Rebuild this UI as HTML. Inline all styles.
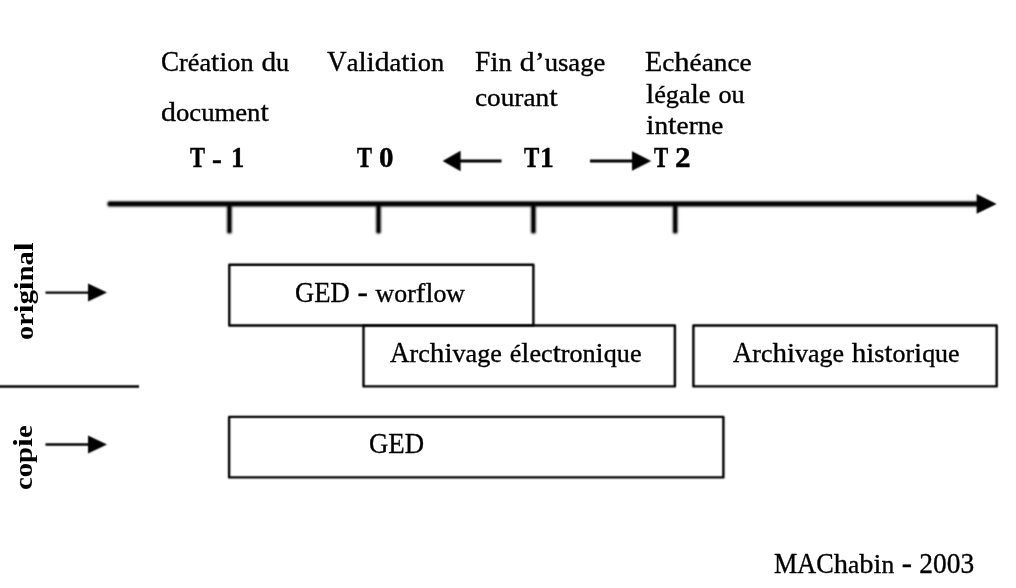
<!DOCTYPE html>
<html><head><meta charset="utf-8"><title>Cycle de vie du document</title><style>
html,body{margin:0;padding:0;background:#fff;width:1016px;height:588px;overflow:hidden;position:relative}
#w{position:absolute;left:0;top:0;width:1016px;height:588px;background:#fff;filter:grayscale(1)}
#g{position:absolute;left:0;top:0;width:1016px;height:588px;filter:url(#soft)}
.t{position:absolute;white-space:nowrap;font-family:"Liberation Serif",serif;font-size:30px;line-height:0;color:#000;transform-origin:0 0;height:0}
.t span.la{font-size:28px}
.t span.lx{font-size:25px}
.t span.uc{display:inline-block;transform-origin:0 0}
.r{-webkit-text-stroke:0.35px #000;letter-spacing:0px}
.b{font-weight:bold;font-size:30px;-webkit-text-stroke:0.45px #000}
.b.v{-webkit-text-stroke:0px #000}
</style></head><body>
<svg width="0" height="0" style="position:absolute;left:0;top:0"><filter id="soft" x="0" y="0" width="100%" height="100%" color-interpolation-filters="sRGB"><feConvolveMatrix order="3" kernelMatrix="1 2 1 2 6 2 1 2 1" divisor="18" edgeMode="duplicate"/></filter></svg>
<div id="w">
<div id="g"><svg width="1016" height="588" viewBox="0 0 1016 588" style="position:absolute;left:0;top:0">
<line x1="110" y1="203.9" x2="978" y2="203.9" stroke="#000" stroke-opacity="0.05" stroke-width="9.5" stroke-linecap="round"/>
<line x1="110" y1="203.9" x2="978" y2="203.9" stroke="#000" stroke-opacity="0.15" stroke-width="7.5" stroke-linecap="round"/>
<line x1="110" y1="203.9" x2="978" y2="203.9" stroke="#000" stroke-opacity="0.32" stroke-width="6" stroke-linecap="round"/>
<line x1="110" y1="203.9" x2="978" y2="203.9" stroke="#000" stroke-opacity="0.6" stroke-width="4.6" stroke-linecap="round"/>
<line x1="110" y1="203.9" x2="978" y2="203.9" stroke="#000" stroke-opacity="1" stroke-width="3.3" stroke-linecap="round"/>
<line x1="229.4" y1="207" x2="229.4" y2="231.2" stroke="#000" stroke-opacity="0.05" stroke-width="9" stroke-linecap="round"/>
<line x1="229.4" y1="207" x2="229.4" y2="231.2" stroke="#000" stroke-opacity="0.15" stroke-width="7" stroke-linecap="round"/>
<line x1="229.4" y1="207" x2="229.4" y2="231.2" stroke="#000" stroke-opacity="0.3" stroke-width="5.5" stroke-linecap="round"/>
<line x1="229.4" y1="207" x2="229.4" y2="231.2" stroke="#000" stroke-opacity="0.55" stroke-width="4.2" stroke-linecap="round"/>
<line x1="229.4" y1="207" x2="229.4" y2="231.2" stroke="#000" stroke-opacity="1" stroke-width="2.8" stroke-linecap="round"/>
<line x1="378.5" y1="207" x2="378.5" y2="231.2" stroke="#000" stroke-opacity="0.05" stroke-width="9" stroke-linecap="round"/>
<line x1="378.5" y1="207" x2="378.5" y2="231.2" stroke="#000" stroke-opacity="0.15" stroke-width="7" stroke-linecap="round"/>
<line x1="378.5" y1="207" x2="378.5" y2="231.2" stroke="#000" stroke-opacity="0.3" stroke-width="5.5" stroke-linecap="round"/>
<line x1="378.5" y1="207" x2="378.5" y2="231.2" stroke="#000" stroke-opacity="0.55" stroke-width="4.2" stroke-linecap="round"/>
<line x1="378.5" y1="207" x2="378.5" y2="231.2" stroke="#000" stroke-opacity="1" stroke-width="2.8" stroke-linecap="round"/>
<line x1="533.4" y1="207" x2="533.4" y2="231.2" stroke="#000" stroke-opacity="0.05" stroke-width="9" stroke-linecap="round"/>
<line x1="533.4" y1="207" x2="533.4" y2="231.2" stroke="#000" stroke-opacity="0.15" stroke-width="7" stroke-linecap="round"/>
<line x1="533.4" y1="207" x2="533.4" y2="231.2" stroke="#000" stroke-opacity="0.3" stroke-width="5.5" stroke-linecap="round"/>
<line x1="533.4" y1="207" x2="533.4" y2="231.2" stroke="#000" stroke-opacity="0.55" stroke-width="4.2" stroke-linecap="round"/>
<line x1="533.4" y1="207" x2="533.4" y2="231.2" stroke="#000" stroke-opacity="1" stroke-width="2.8" stroke-linecap="round"/>
<line x1="675.2" y1="207" x2="675.2" y2="231.2" stroke="#000" stroke-opacity="0.05" stroke-width="9" stroke-linecap="round"/>
<line x1="675.2" y1="207" x2="675.2" y2="231.2" stroke="#000" stroke-opacity="0.15" stroke-width="7" stroke-linecap="round"/>
<line x1="675.2" y1="207" x2="675.2" y2="231.2" stroke="#000" stroke-opacity="0.3" stroke-width="5.5" stroke-linecap="round"/>
<line x1="675.2" y1="207" x2="675.2" y2="231.2" stroke="#000" stroke-opacity="0.55" stroke-width="4.2" stroke-linecap="round"/>
<line x1="675.2" y1="207" x2="675.2" y2="231.2" stroke="#000" stroke-opacity="1" stroke-width="2.8" stroke-linecap="round"/>
<g stroke="#000" fill="none" stroke-linejoin="round" stroke-width="2.4">
<rect x="229.3" y="264.7" width="304.1" height="60.8"/>
<rect x="363.5" y="325.5" width="311.4" height="60.9"/>
<rect x="693.4" y="325.5" width="303.3" height="60.9"/>
<rect x="229.1" y="416.9" width="494.3" height="60.5"/>
</g>
<g stroke="#000" fill="none">
<line x1="0" y1="386.5" x2="139" y2="386.5" stroke-width="2.4"/>
<line x1="45.5" y1="292.6" x2="90" y2="292.6" stroke-width="2.3"/>
<line x1="45.5" y1="444.5" x2="90" y2="444.5" stroke-width="2.3"/>
<line x1="458" y1="161" x2="501.5" y2="161" stroke-width="2.8"/>
<line x1="590" y1="161" x2="634" y2="161" stroke-width="2.8"/>
</g>
<g fill="#000">
<polygon points="976.6,194 996.6,203.9 976.6,213.8"/>
<polygon points="88,283.6 107,292.6 88,301.6"/>
<polygon points="88,435.5 107,444.5 88,453.5"/>
<polygon points="442.6,161 460.6,150.8 460.6,171.2"/>
<polygon points="632,151.3 651.2,161 632,170.7"/>
</g>
</svg></div>
<div class="t r" style="left:160.95px;top:61.00px;transform:scaleX(1.0479)"><span class="uc" style="transform:scaleX(0.86);margin-right:-2.80px">C</span><span class="lx">réa</span><span class="la">ti</span><span class="lx">on</span> <span class="la">d</span><span class="lx">u</span></div>
<div class="t r" style="left:160.93px;top:111.00px;transform:scaleX(1.0680)"><span class="la">d</span><span class="lx">ocumen</span><span class="la">t</span></div>
<div class="t r" style="left:326.70px;top:60.50px;transform:scaleX(1.0550)"><span class="uc" style="transform:scaleX(0.86);margin-right:-3.03px">V</span><span class="lx">a</span><span class="la">lid</span><span class="lx">a</span><span class="la">ti</span><span class="lx">on</span></div>
<div class="t r" style="left:474.94px;top:61.00px;transform:scaleX(1.0645)"><span class="uc" style="transform:scaleX(0.86);margin-right:-2.34px">F</span><span class="la">i</span><span class="lx">n</span> <span class="la">d’</span><span class="lx">usage</span></div>
<div class="t r" style="left:474.91px;top:95.70px;transform:scaleX(1.0907)"><span class="lx">couran</span><span class="la">t</span></div>
<div class="t r" style="left:644.91px;top:60.70px;transform:scaleX(1.0917)"><span class="uc" style="transform:scaleX(0.86);margin-right:-2.57px">E</span><span class="lx">c</span><span class="la">h</span><span class="lx">éance</span></div>
<div class="t r" style="left:646.00px;top:93.40px;transform:scaleX(1.0511)"><span class="la">l</span><span class="lx">éga</span><span class="la">l</span><span class="lx">e</span> <span class="lx">ou</span></div>
<div class="t r" style="left:646.00px;top:123.75px;transform:scaleX(1.0887)"><span class="la">i</span><span class="lx">n</span><span class="la">t</span><span class="lx">erne</span></div>
<div class="t r" style="left:295.37px;top:291.50px;transform:scaleX(1.0329)"><span class="uc" style="transform:scaleX(0.86);margin-right:-8.63px">GED</span> - <span class="lx">wor</span><span class="la">fl</span><span class="lx">ow</span></div>
<div class="t r" style="left:390.40px;top:351.60px;transform:scaleX(1.0450)"><span class="uc" style="transform:scaleX(0.86);margin-right:-3.03px">A</span><span class="lx">rc</span><span class="la">hi</span><span class="lx">vage</span> <span class="lx">é</span><span class="la">l</span><span class="lx">ec</span><span class="la">t</span><span class="lx">ron</span><span class="la">i</span><span class="lx">que</span></div>
<div class="t r" style="left:732.80px;top:351.60px;transform:scaleX(1.0367)"><span class="uc" style="transform:scaleX(0.86);margin-right:-3.03px">A</span><span class="lx">rc</span><span class="la">hi</span><span class="lx">vage</span> <span class="la">hi</span><span class="lx">s</span><span class="la">t</span><span class="lx">or</span><span class="la">i</span><span class="lx">que</span></div>
<div class="t r" style="left:368.76px;top:443.20px;transform:scaleX(1.0392)"><span class="uc" style="transform:scaleX(0.86);margin-right:-8.63px">GED</span></div>
<div class="t r" style="left:774.38px;top:563.00px;transform:scaleX(1.0164)"><span class="uc" style="transform:scaleX(0.86);margin-right:-9.57px">MAC</span><span class="la">h</span><span class="lx">a</span><span class="la">bi</span><span class="lx">n</span> - <span class="uc" style="transform:scaleX(0.9);margin-right:-6.00px">2003</span></div>
<div class="t b" style="left:190.20px;top:157.20px;transform:scaleX(0.7500)">T</div>
<div class="t b" style="left:211.71px;top:158.80px;transform:scaleX(0.9875)">-</div>
<div class="t b" style="left:231.03px;top:157.20px;transform:scaleX(0.8833)">1</div>
<div class="t b" style="left:357.30px;top:157.20px;transform:scaleX(0.7500)">T</div>
<div class="t b" style="left:379.23px;top:157.20px;transform:scaleX(0.9692)">0</div>
<div class="t b" style="left:524.20px;top:157.20px;transform:scaleX(0.7650)">T</div>
<div class="t b" style="left:540.07px;top:157.20px;transform:scaleX(0.9167)">1</div>
<div class="t b" style="left:654.10px;top:157.20px;transform:scaleX(0.7100)">T</div>
<div class="t b" style="left:674.96px;top:157.20px;transform:scaleX(1.0385)">2</div>
<div style="position:absolute;left:33.40px;top:339.94px;width:0;height:0;transform-origin:0 0;transform:rotate(-90deg) scaleX(1.1357)"><div class="t b v" style="left:0;top:-10.00px"><span class="lx">or</span><span class="la">i</span><span class="lx">g</span><span class="la">i</span><span class="lx">na</span><span class="la">l</span></div></div>
<div style="position:absolute;left:32.10px;top:489.75px;width:0;height:0;transform-origin:0 0;transform:rotate(-90deg) scaleX(1.1473)"><div class="t b v" style="left:0;top:-10.00px"><span class="lx">cop</span><span class="la">i</span><span class="lx">e</span></div></div>
</div></body></html>
